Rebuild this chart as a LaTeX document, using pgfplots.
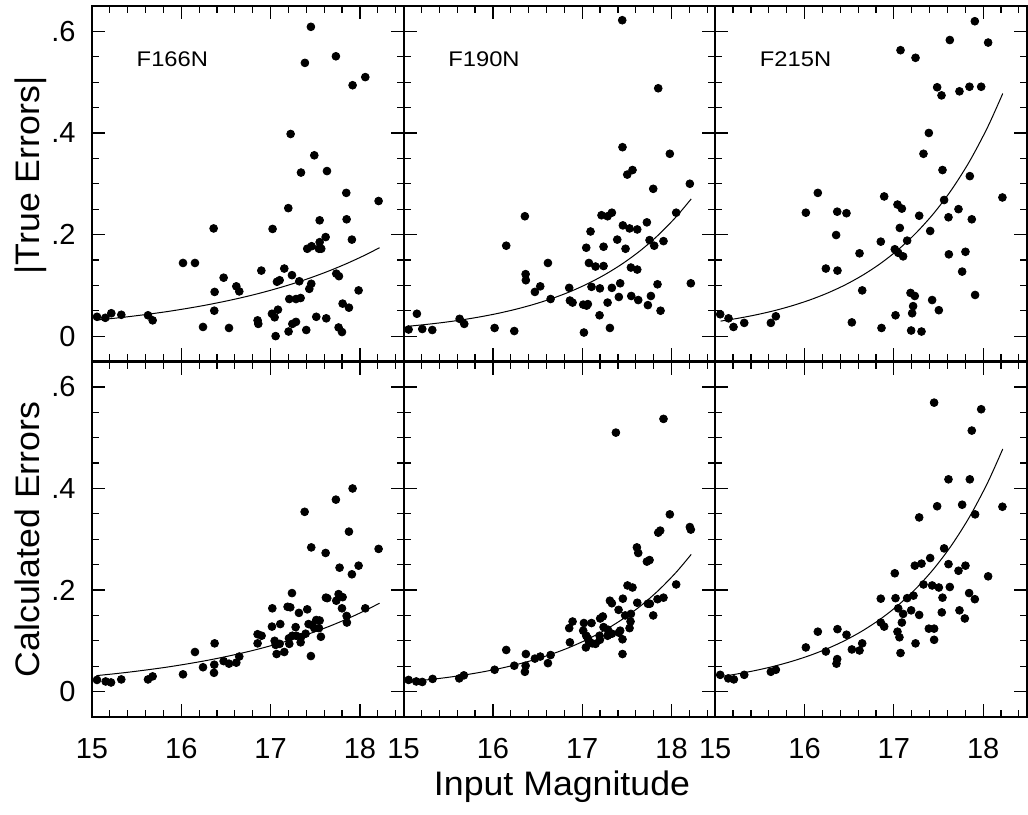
\documentclass[border=0pt]{standalone}
\usepackage{fontspec}
\setmainfont{Liberation Sans}
\newfontfamily\axisfont{Liberation Sans}[FakeStretch=1.05]
\newfontfamily\filtfont{Liberation Sans}[FakeStretch=1.12]
\usepackage{pgfplots}
\pgfplotsset{compat=1.18}
\newcommand\labfont{\axisfont\fontsize{17}{20}\selectfont}
\newcommand\tickfont{\fontsize{14.5}{17}\selectfont}
\pgfplotsset{
  panel/.style={
    scale only axis, width=155.8pt, height=177.75pt,
    xmin=15, xmax=18.489, ymin=-0.05, ymax=0.65,
    xtick={15,16,17,18},
    minor xtick={15.2,15.4,15.6,15.8,16.2,16.4,16.6,16.8,17.2,17.4,17.6,17.8,18.2,18.4},
    ytick={0,0.2,0.4,0.6},
    minor ytick={0.05,0.1,0.15,0.25,0.3,0.35,0.45,0.5,0.55},
    xticklabels={}, yticklabels={},
    tick align=inside, xtick pos=both, ytick pos=both,
    major tick length=6.5pt, minor tick length=3.5pt,
    axis line style={line width=1pt},
    every tick/.style={black, line width=0.6pt},
    tick label style={font=\tickfont},
    /pgf/number format/assume math mode=true,
    xticklabel style={anchor=north, inner sep=0pt, yshift=-10.5pt},
    yticklabel style={anchor=east, inner sep=0pt, xshift=-8pt},
  },
  leftcol/.style={yticklabels={0,.2,.4,.6}},
  bottomrow/.style={xticklabels={15,16,17,18}},
  dots/.style={only marks, mark=*, mark size=1.95pt, black},
  fit/.style={no marks, black, line width=0.5pt, smooth},
}
\begin{document}
\begin{tikzpicture}
\useasboundingbox (-46pt,-48.5pt) rectangle (468pt,358.5pt);
% ---------- top row ----------
\begin{axis}[panel, leftcol, at={(0pt,177.75pt)}, anchor=south west]
\addplot[dots] coordinates {(15.056,0.038)(15.149,0.036)(15.216,0.045)(15.328,0.042)(15.627,0.041)(15.679,0.031)(16.019,0.144)(16.153,0.144)(16.243,0.018)(16.362,0.212)(16.373,0.087)(16.369,0.050)(16.474,0.115)(16.534,0.016)(16.616,0.098)(16.649,0.088)(16.854,0.031)(16.862,0.024)(16.896,0.129)(17.022,0.211)(17.015,0.044)(17.045,0.037)(17.056,0.000)(17.071,0.107)(17.101,0.110)(17.082,0.052)(17.153,0.133)(17.198,0.252)(17.209,0.073)(17.201,0.009)(17.224,0.398)(17.239,0.120)(17.243,0.024)(17.284,0.028)(17.284,0.073)(17.321,0.108)(17.336,0.075)(17.340,0.322)(17.384,0.538)(17.399,0.012)(17.410,0.172)(17.433,0.093)(17.455,0.103)(17.451,0.609)(17.459,0.177)(17.489,0.356)(17.511,0.038)(17.541,0.172)(17.549,0.228)(17.567,0.172)(17.549,0.185)(17.616,0.195)(17.623,0.035)(17.631,0.325)(17.731,0.551)(17.735,0.123)(17.765,0.118)(17.761,0.017)(17.799,0.008)(17.806,0.064)(17.847,0.282)(17.851,0.230)(17.877,0.056)(17.910,0.190)(17.918,0.494)(17.985,0.090)(18.060,0.510)(18.209,0.266)};
\addplot[fit] coordinates {(15.05,0.0315)(15.25,0.0351)(15.45,0.0391)(15.65,0.0436)(15.85,0.0485)(16.05,0.0541)(16.25,0.0602)(16.45,0.0671)(16.65,0.0747)(16.85,0.0832)(17.05,0.0927)(17.25,0.1032)(17.45,0.1150)(17.65,0.1281)(17.85,0.1427)(18.05,0.1589)(18.22,0.1741)};
\node[font=\filtfont\fontsize{10.6}{12}\selectfont, anchor=base] at (axis cs:15.9,0.531) {F166N};
\end{axis}
\begin{axis}[panel, at={(155.8pt,177.75pt)}, anchor=south west]
\addplot[dots] coordinates {(15.056,0.013)(15.149,0.044)(15.209,0.014)(15.321,0.012)(15.627,0.034)(15.679,0.024)(16.019,0.016)(16.149,0.178)(16.239,0.010)(16.358,0.236)(16.366,0.122)(16.369,0.110)(16.470,0.087)(16.530,0.098)(16.616,0.144)(16.646,0.073)(16.854,0.095)(16.862,0.070)(16.892,0.066)(17.019,0.007)(17.011,0.062)(17.063,0.063)(17.049,0.060)(17.045,0.174)(17.075,0.144)(17.093,0.206)(17.104,0.097)(17.149,0.137)(17.198,0.094)(17.194,0.041)(17.216,0.238)(17.239,0.138)(17.239,0.176)(17.284,0.236)(17.284,0.066)(17.310,0.016)(17.332,0.243)(17.332,0.095)(17.392,0.190)(17.410,0.077)(17.425,0.104)(17.448,0.622)(17.451,0.372)(17.455,0.218)(17.485,0.172)(17.504,0.318)(17.530,0.212)(17.545,0.135)(17.549,0.079)(17.563,0.327)(17.616,0.210)(17.616,0.131)(17.627,0.071)(17.724,0.224)(17.735,0.061)(17.754,0.189)(17.769,0.079)(17.795,0.290)(17.806,0.178)(17.843,0.102)(17.851,0.488)(17.877,0.050)(17.910,0.187)(17.981,0.359)(18.052,0.243)(18.205,0.300)(18.216,0.104)};
\addplot[fit] coordinates {(15.07,0.0197)(15.25,0.0229)(15.45,0.0270)(15.65,0.0319)(15.85,0.0377)(16.05,0.0445)(16.25,0.0526)(16.45,0.0621)(16.65,0.0733)(16.85,0.0865)(17.05,0.1022)(17.25,0.1207)(17.45,0.1425)(17.65,0.1682)(17.85,0.1987)(18.05,0.2346)(18.22,0.2701)};
\node[font=\filtfont\fontsize{10.6}{12}\selectfont, anchor=base] at (axis cs:15.9,0.531) {F190N};
\end{axis}
\begin{axis}[panel, at={(311.6pt,177.75pt)}, anchor=south west]
\addplot[dots] coordinates {(15.056,0.043)(15.149,0.035)(15.205,0.018)(15.325,0.026)(15.623,0.026)(15.679,0.039)(16.015,0.243)(16.149,0.282)(16.239,0.133)(16.354,0.199)(16.366,0.245)(16.369,0.129)(16.470,0.242)(16.530,0.027)(16.616,0.163)(16.646,0.090)(16.854,0.186)(16.862,0.016)(16.892,0.275)(17.019,0.041)(17.011,0.171)(17.041,0.259)(17.067,0.213)(17.049,0.164)(17.075,0.563)(17.090,0.251)(17.104,0.157)(17.149,0.188)(17.187,0.085)(17.194,0.011)(17.205,0.045)(17.216,0.059)(17.235,0.079)(17.243,0.548)(17.284,0.237)(17.310,0.009)(17.332,0.359)(17.392,0.400)(17.407,0.207)(17.429,0.071)(17.485,0.490)(17.504,0.051)(17.534,0.474)(17.545,0.327)(17.563,0.268)(17.612,0.234)(17.616,0.161)(17.627,0.583)(17.724,0.250)(17.735,0.482)(17.765,0.127)(17.802,0.166)(17.847,0.491)(17.851,0.315)(17.873,0.230)(17.907,0.620)(17.910,0.081)(17.978,0.491)(18.056,0.578)(18.216,0.273)};
\addplot[fit] coordinates {(15.06,0.0295)(15.25,0.0349)(15.45,0.0416)(15.65,0.0496)(15.85,0.0592)(16.05,0.0706)(16.25,0.0842)(16.45,0.1004)(16.65,0.1198)(16.85,0.1429)(17.05,0.1704)(17.25,0.2033)(17.45,0.2424)(17.65,0.2891)(17.85,0.3448)(18.05,0.4113)(18.22,0.4778)};
\node[font=\filtfont\fontsize{10.6}{12}\selectfont, anchor=base] at (axis cs:15.9,0.531) {F215N};
\end{axis}
% ---------- bottom row ----------
\begin{axis}[panel, leftcol, bottomrow, at={(0pt,0pt)}, anchor=south west]
\addplot[dots] coordinates {(15.056,0.023)(15.153,0.020)(15.213,0.018)(15.328,0.024)(15.627,0.024)(15.679,0.030)(16.019,0.034)(16.153,0.078)(16.243,0.048)(16.366,0.037)(16.369,0.053)(16.373,0.095)(16.474,0.060)(16.534,0.055)(16.616,0.057)(16.649,0.069)(16.854,0.095)(16.854,0.113)(16.899,0.110)(17.019,0.164)(17.015,0.128)(17.045,0.100)(17.056,0.092)(17.067,0.074)(17.101,0.094)(17.108,0.133)(17.153,0.078)(17.190,0.167)(17.220,0.166)(17.205,0.105)(17.209,0.094)(17.239,0.194)(17.243,0.110)(17.280,0.127)(17.287,0.110)(17.317,0.155)(17.336,0.097)(17.340,0.107)(17.381,0.354)(17.392,0.114)(17.410,0.162)(17.425,0.133)(17.451,0.070)(17.455,0.284)(17.463,0.131)(17.489,0.125)(17.511,0.141)(17.549,0.140)(17.541,0.125)(17.563,0.108)(17.616,0.273)(17.619,0.185)(17.634,0.184)(17.731,0.378)(17.735,0.179)(17.761,0.192)(17.772,0.244)(17.799,0.164)(17.806,0.186)(17.851,0.149)(17.854,0.136)(17.877,0.315)(17.910,0.231)(17.918,0.400)(17.985,0.248)(18.060,0.164)(18.209,0.281)};
\addplot[fit] coordinates {(15.05,0.0315)(15.25,0.0351)(15.45,0.0391)(15.65,0.0436)(15.85,0.0485)(16.05,0.0541)(16.25,0.0602)(16.45,0.0671)(16.65,0.0747)(16.85,0.0832)(17.05,0.0927)(17.25,0.1032)(17.45,0.1150)(17.65,0.1281)(17.85,0.1427)(18.05,0.1589)(18.22,0.1741)};
\end{axis}
\begin{axis}[panel, bottomrow, at={(155.8pt,0pt)}, anchor=south west]
\addplot[dots] coordinates {(15.056,0.023)(15.142,0.020)(15.209,0.019)(15.325,0.025)(15.623,0.026)(15.675,0.032)(16.019,0.043)(16.149,0.082)(16.239,0.051)(16.358,0.039)(16.366,0.051)(16.369,0.074)(16.470,0.065)(16.530,0.069)(16.616,0.056)(16.646,0.072)(16.854,0.125)(16.862,0.097)(16.892,0.138)(17.019,0.135)(17.011,0.120)(17.045,0.110)(17.063,0.105)(17.041,0.087)(17.075,0.099)(17.104,0.135)(17.112,0.095)(17.149,0.094)(17.198,0.102)(17.194,0.110)(17.201,0.144)(17.231,0.148)(17.239,0.127)(17.284,0.110)(17.287,0.122)(17.310,0.179)(17.332,0.174)(17.332,0.114)(17.377,0.510)(17.407,0.161)(17.410,0.116)(17.425,0.120)(17.451,0.103)(17.451,0.074)(17.455,0.183)(17.481,0.150)(17.507,0.209)(17.530,0.125)(17.541,0.138)(17.545,0.153)(17.563,0.205)(17.612,0.284)(17.627,0.273)(17.616,0.175)(17.724,0.256)(17.754,0.259)(17.735,0.173)(17.757,0.173)(17.795,0.150)(17.843,0.182)(17.851,0.313)(17.873,0.317)(17.910,0.537)(17.910,0.185)(17.981,0.349)(18.052,0.211)(18.205,0.324)(18.216,0.319)};
\addplot[fit] coordinates {(15.07,0.0197)(15.25,0.0229)(15.45,0.0270)(15.65,0.0319)(15.85,0.0377)(16.05,0.0445)(16.25,0.0526)(16.45,0.0621)(16.65,0.0733)(16.85,0.0865)(17.05,0.1022)(17.25,0.1207)(17.45,0.1425)(17.65,0.1682)(17.85,0.1987)(18.05,0.2346)(18.22,0.2701)};
\end{axis}
\begin{axis}[panel, bottomrow, at={(311.6pt,0pt)}, anchor=south west]
\addplot[dots] coordinates {(15.056,0.033)(15.146,0.026)(15.209,0.024)(15.325,0.033)(15.623,0.039)(15.679,0.043)(16.015,0.087)(16.149,0.118)(16.239,0.079)(16.358,0.055)(16.366,0.064)(16.369,0.123)(16.470,0.112)(16.530,0.083)(16.616,0.081)(16.646,0.095)(16.854,0.136)(16.892,0.128)(16.854,0.183)(17.011,0.233)(17.019,0.184)(17.041,0.118)(17.049,0.164)(17.063,0.107)(17.075,0.076)(17.090,0.136)(17.104,0.153)(17.149,0.184)(17.194,0.160)(17.220,0.189)(17.235,0.248)(17.243,0.095)(17.284,0.343)(17.284,0.151)(17.310,0.252)(17.332,0.211)(17.392,0.124)(17.407,0.263)(17.429,0.209)(17.451,0.569)(17.451,0.124)(17.451,0.102)(17.485,0.365)(17.504,0.205)(17.545,0.185)(17.537,0.156)(17.563,0.282)(17.612,0.418)(17.612,0.251)(17.627,0.206)(17.724,0.238)(17.735,0.160)(17.765,0.368)(17.795,0.144)(17.802,0.248)(17.843,0.194)(17.851,0.418)(17.873,0.514)(17.907,0.182)(17.910,0.349)(17.978,0.556)(18.056,0.227)(18.216,0.364)};
\addplot[fit] coordinates {(15.06,0.0295)(15.25,0.0349)(15.45,0.0416)(15.65,0.0496)(15.85,0.0592)(16.05,0.0706)(16.25,0.0842)(16.45,0.1004)(16.65,0.1198)(16.85,0.1429)(17.05,0.1704)(17.25,0.2033)(17.45,0.2424)(17.65,0.2891)(17.85,0.3448)(18.05,0.4113)(18.22,0.4778)};
\end{axis}
% ---------- labels ----------
\node[rotate=90, anchor=base, font=\labfont] at (-26pt,270.75pt) {|True Errors|};
\node[rotate=90, anchor=base, font=\labfont] at (-26pt,88.75pt) {Calculated Errors};
\node[anchor=base, font=\labfont] at (235pt,-39pt) {Input Magnitude};
\end{tikzpicture}
\end{document}
